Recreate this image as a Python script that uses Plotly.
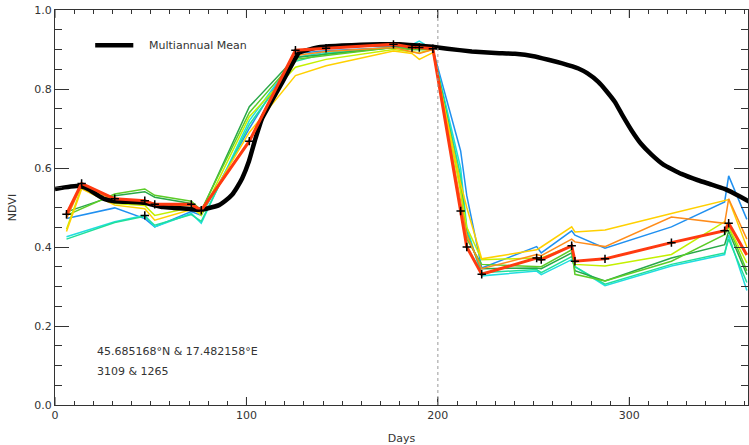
import plotly.graph_objects as go

# ---- data -------------------------------------------------------------
# multiannual mean NDVI (daily curve, sampled)
MEAN_DAYS = [0, 5, 10, 14, 18, 22, 26, 31, 40, 46.9, 51, 56.5, 62, 68.6, 75.6,
             80, 85.7, 89, 92.6, 95, 97.8, 101.3, 104.8, 108.2, 112.6, 118.7,
             124.8, 127.4, 136, 143, 150, 160, 170, 180, 190, 197, 205, 217.7,
             230, 240.3, 250, 257.7, 265, 273.4, 278, 283.8, 288, 292.5, 296,
             301.2, 306, 311.6, 318, 327.2, 335.9, 343, 349.8, 355, 361.1, 365]
MEAN_NDVI = [0.547, 0.551, 0.554, 0.553, 0.545, 0.532, 0.521, 0.516, 0.514,
             0.512, 0.507, 0.501, 0.499, 0.497, 0.494, 0.498, 0.506, 0.517,
             0.533, 0.550, 0.574, 0.617, 0.676, 0.726, 0.765, 0.817, 0.871,
             0.892, 0.904, 0.908, 0.910, 0.912, 0.913, 0.913, 0.910, 0.907,
             0.902, 0.895, 0.891, 0.889, 0.883, 0.874, 0.865, 0.852, 0.840,
             0.818, 0.795, 0.767, 0.737, 0.695, 0.662, 0.634, 0.608, 0.585,
             0.569, 0.558, 0.547, 0.535, 0.519, 0.508]

# acquisition days (with / without the mid-January scene)
DAYS_A = [6.0, 13.9, 31.2, 46.9, 52.1, 71.2, 76.4, 101.5, 125.6, 141.6, 176.8,
          186.5, 190.3, 197.4, 211.9, 215.1, 222.9, 251.6, 254.0, 269.9, 271.6,
          287.3, 322.0, 349.8, 351.9, 361.4]
DAYS_B = [6.0, 31.2, 46.9, 52.1, 71.2, 76.4, 101.5, 125.6, 141.6, 176.8,
          186.5, 190.3, 197.4, 211.9, 215.1, 222.9, 251.6, 254.0, 269.9, 271.6,
          287.3, 322.0, 349.8, 351.9, 361.4]

# yearly NDVI profiles
ORANGE_NDVI = [0.472, 0.556, 0.518, 0.512, 0.503, 0.505, 0.490, 0.670, 0.885,
               0.895, 0.905, 0.895, 0.890, 0.900, 0.520, 0.430, 0.345, 0.381,
               0.378, 0.420, 0.413, 0.401, 0.476, 0.460, 0.522, 0.420]
GOLD_NDVI = [0.439, 0.547, 0.506, 0.497, 0.468, 0.495, 0.486, 0.690, 0.834,
             0.859, 0.896, 0.890, 0.875, 0.892, 0.560, 0.500, 0.370, 0.393,
             0.400, 0.451, 0.438, 0.443, 0.485, 0.518, 0.520, 0.400]
YGREEN_NDVI = [0.445, 0.551, 0.510, 0.505, 0.480, 0.500, 0.480, 0.730, 0.855,
               0.875, 0.900, 0.895, 0.892, 0.900, 0.540, 0.450, 0.368, 0.372,
               0.372, 0.403, 0.356, 0.352, 0.381, 0.464, 0.450, 0.360]
GREEN_NDVI = [0.480, 0.534, 0.547, 0.531, 0.516, 0.493, 0.740, 0.875, 0.885,
              0.905, 0.900, 0.900, 0.900, 0.550, 0.420, 0.356, 0.352, 0.350,
              0.393, 0.331, 0.314, 0.364, 0.431, 0.450, 0.340]
DKGREEN_NDVI = [0.489, 0.530, 0.540, 0.526, 0.510, 0.490, 0.755, 0.880, 0.888,
                0.905, 0.900, 0.900, 0.900, 0.560, 0.430, 0.345, 0.347, 0.345,
                0.385, 0.340, 0.314, 0.372, 0.406, 0.440, 0.330]
SPRING_NDVI = [0.420, 0.462, 0.478, 0.455, 0.482, 0.465, 0.710, 0.870, 0.890,
               0.905, 0.905, 0.905, 0.900, 0.580, 0.440, 0.335, 0.343, 0.335,
               0.376, 0.350, 0.306, 0.356, 0.385, 0.420, 0.310]
CYAN_NDVI = [0.426, 0.464, 0.480, 0.451, 0.485, 0.460, 0.720, 0.880, 0.893,
             0.905, 0.912, 0.921, 0.900, 0.600, 0.450, 0.327, 0.339, 0.330,
             0.368, 0.350, 0.302, 0.352, 0.381, 0.430, 0.290]
BLUE_NDVI = [0.472, 0.499, 0.472, 0.451, 0.490, 0.480, 0.700, 0.890, 0.897,
             0.905, 0.903, 0.902, 0.900, 0.643, 0.530, 0.347, 0.401, 0.385,
             0.441, 0.430, 0.397, 0.451, 0.514, 0.580, 0.470]
RED_NDVI = [0.483, 0.561, 0.522, 0.517, 0.508, 0.508, 0.493, 0.668, 0.898,
            0.903, 0.913, 0.905, 0.905, 0.902, 0.491, 0.400, 0.331, 0.372,
            0.368, 0.403, 0.364, 0.370, 0.411, 0.441, 0.460, 0.380]

# observation crosses
MARK_DAYS = DAYS_A[:-1] + [46.9]
MARK_NDVI = RED_NDVI[:-1] + [0.480]

REF_DAY = 200
COORD_TEXT = "45.685168°N & 17.482158°E"
PIXEL_TEXT = "3109 & 1265"
X_TICKS = [0, 100, 200, 300]
Y_TICKS = [0.0, 0.2, 0.4, 0.6, 0.8, 1.0]
X_END = 362          # last day inside the frame
X_MINOR_STEP = 10
Y_MINOR_STEP = 0.05

FONT = "DejaVu Sans"
AX = "#333333"
TXT = "#333333"

# figure geometry (px)
FIG_W, FIG_H = 749, 445
M_L, M_R, M_T, M_B = 55, 0, 10, 34
PLOT_W = FIG_W - M_L - M_R
PLOT_H = FIG_H - M_T - M_B
Y_MAX = Y_TICKS[-1]
DY_PER_PX = Y_MAX / PLOT_H

fig = go.Figure()

thin_series = [
    (DAYS_B, BLUE_NDVI, "#2090F0"),
    (DAYS_B, CYAN_NDVI, "#20DDE0"),
    (DAYS_B, SPRING_NDVI, "#20E09A"),
    (DAYS_B, DKGREEN_NDVI, "#28A848"),
    (DAYS_B, GREEN_NDVI, "#5CCC28"),
    (DAYS_A, YGREEN_NDVI, "#C4F000"),
    (DAYS_A, GOLD_NDVI, "#FFD000"),
    (DAYS_A, ORANGE_NDVI, "#FF8C1A"),
]
for d, v, c in thin_series:
    fig.add_trace(go.Scatter(x=d, y=v, mode="lines", showlegend=False,
                             line=dict(color=c, width=1.5), hoverinfo="skip"))

fig.add_trace(go.Scatter(x=MEAN_DAYS, y=MEAN_NDVI, mode="lines",
                         name="Multiannual Mean", showlegend=False,
                         line=dict(color="black", width=4.5, shape="spline",
                                   smoothing=0.3)))

fig.add_trace(go.Scatter(x=DAYS_A, y=RED_NDVI, mode="lines", showlegend=False,
                         line=dict(color="#FF3A10", width=3)))

fig.add_trace(go.Scatter(x=MARK_DAYS, y=MARK_NDVI, mode="markers",
                         showlegend=False,
                         marker=dict(symbol="cross-thin", size=6,
                                     line=dict(color="black", width=1.5))))

# long 100-day ticks on the bottom and top edges
tx, ty = [], []
h = 8 * DY_PER_PX
for day in X_TICKS:
    tx.extend([day, day, None, day, day, None])
    ty.extend([0, h, None, Y_MAX, Y_MAX - h, None])
fig.add_trace(go.Scatter(x=tx, y=ty, mode="lines", showlegend=False,
                         hoverinfo="skip", line=dict(color=AX, width=1)))

fig.add_vline(x=REF_DAY, line=dict(color="#999999", width=1, dash="dot"))

# legend entry for the mean curve
fig.add_shape(type="line", xref="paper", yref="paper", x0=0.058, x1=0.113,
              y0=0.911, y1=0.911, line=dict(color="black", width=4.5))
fig.add_annotation(text="Multiannual Mean", xref="paper", yref="paper",
                   x=0.133, y=0.911, xanchor="left", yanchor="middle",
                   showarrow=False, font=dict(family=FONT, size=11, color=TXT))

fig.add_annotation(text=COORD_TEXT, xref="paper", yref="paper", x=0.058,
                   y=0.135, xanchor="left", yanchor="middle", showarrow=False,
                   font=dict(family=FONT, size=11, color=TXT))
fig.add_annotation(text=PIXEL_TEXT, xref="paper", yref="paper", x=0.058,
                   y=0.0855, xanchor="left", yanchor="middle", showarrow=False,
                   font=dict(family=FONT, size=11, color=TXT))

fig.update_layout(
    width=FIG_W, height=FIG_H,
    margin=dict(l=M_L, r=M_R, t=M_T, b=M_B),
    plot_bgcolor="white",
    font=dict(family=FONT, size=11, color=TXT),
    xaxis=dict(
        range=[X_TICKS[0], X_END], tickmode="linear", tick0=X_TICKS[0],
        dtick=X_TICKS[1] - X_TICKS[0],
        ticks="inside", ticklen=8, tickcolor=AX,
        showline=True, linecolor=AX, mirror="ticks",
        showgrid=False, zeroline=False,
        minor=dict(ticks="inside", ticklen=4, dtick=X_MINOR_STEP,
                   tickcolor=AX),
        tickfont=dict(family=FONT, size=11, color=TXT),
        title=dict(text="Days", font=dict(family=FONT, size=11, color=TXT)),
    ),
    yaxis=dict(
        range=[Y_TICKS[0], Y_MAX], tickmode="linear", tick0=Y_TICKS[0],
        dtick=round(Y_TICKS[1] - Y_TICKS[0], 3), tickformat=".1f",
        ticks="inside", ticklen=14, tickcolor=AX,
        showline=True, linecolor=AX, mirror="ticks",
        showgrid=False, zeroline=False,
        minor=dict(ticks="inside", ticklen=7, dtick=Y_MINOR_STEP,
                   tickcolor=AX),
        tickfont=dict(family=FONT, size=11, color=TXT),
        title=dict(text="NDVI", font=dict(family=FONT, size=11, color=TXT)),
    ),
)

fig.write_html("out.html")
